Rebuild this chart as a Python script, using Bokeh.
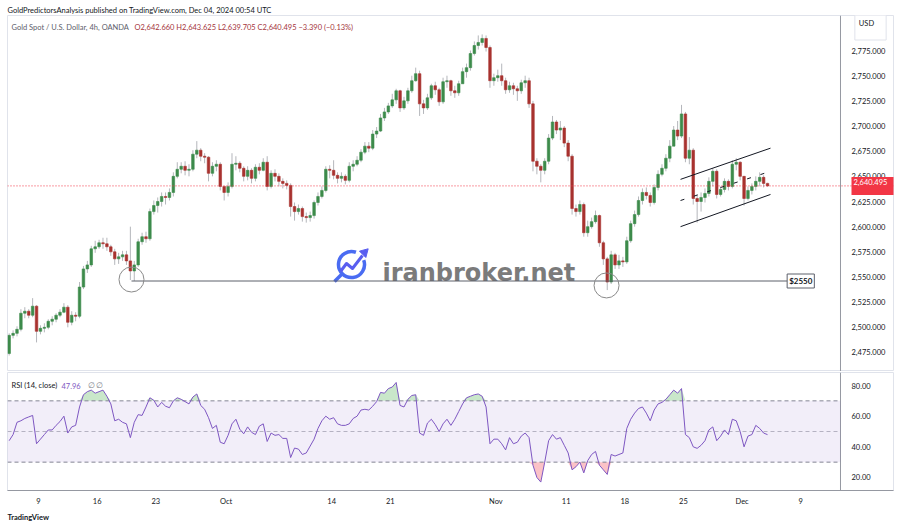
import numpy as np
from bokeh.plotting import figure
from bokeh.layouts import column
from bokeh.models import (ColumnDataSource, Span, Label, FixedTicker, NumeralTickFormatter,
                          BoxAnnotation, Range1d, Title)
from bokeh.embed import file_html
from bokeh.resources import INLINE

# ---------------- data (XAU/USD, 8h candles) ----------------
# candles start Sep 4 2024 (2nd 8h slot) and end Dec 4 2024 (first slot)
# x unit = trading day, Sep 9 2024 00:00 = 0
first_slot = -8
slots_per_day = 3
open_first = 2474
close = [
    2492, 2494,                # Sep 4
    2498, 2514, 2516,          # Sep 5
    2512, 2521, 2496,          # Sep 6
    2499, 2500, 2506,          # Sep 9
    2508, 2512, 2515,          # Sep 10
    2520, 2505, 2512,          # Sep 11
    2511, 2540, 2558,          # Sep 12
    2562, 2578, 2580,          # Sep 13
    2584, 2583, 2580,          # Sep 16
    2575, 2568, 2570,          # Sep 17
    2572, 2566, 2556,          # Sep 18
    2562, 2585, 2590,          # Sep 19
    2588, 2615, 2621,          # Sep 20
    2625, 2630, 2629,          # Sep 23
    2634, 2650, 2657,          # Sep 24
    2660, 2656, 2657,          # Sep 25
    2672, 2676, 2670,          # Sep 26
    2669, 2653, 2660,          # Sep 27
    2662, 2640, 2634,          # Sep 30
    2640, 2662, 2663,          # Oct 1
    2658, 2650, 2656,          # Oct 2
    2648, 2659, 2656,          # Oct 3
    2664, 2640, 2653,          # Oct 4
    2650, 2645, 2643,          # Oct 7
    2641, 2620, 2615,          # Oct 8
    2618, 2610, 2609,          # Oct 9
    2611, 2624, 2630,          # Oct 10
    2636, 2657, 2656,          # Oct 11
    2651, 2648, 2650,          # Oct 14
    2646, 2660, 2662,          # Oct 15
    2666, 2674, 2680,          # Oct 16
    2678, 2692, 2695,          # Oct 17
    2708, 2714, 2720,          # Oct 18
    2726, 2735, 2718,          # Oct 21
    2725, 2735, 2745,          # Oct 22
    2752, 2722, 2718,          # Oct 23
    2728, 2740, 2736,          # Oct 24
    2724, 2744, 2745,          # Oct 25
    2735, 2733, 2742,          # Oct 28
    2754, 2758, 2772,          # Oct 29
    2780, 2783, 2787,          # Oct 30
    2778, 2745, 2748,          # Oct 31
    2750, 2745, 2736,          # Nov 1
    2740, 2737, 2735,          # Nov 4
    2743, 2745, 2722,          # Nov 5
    2665, 2660, 2656,          # Nov 6
    2665, 2688, 2704,          # Nov 7
    2696, 2698, 2683,          # Nov 8
    2670, 2618, 2615,          # Nov 11
    2622, 2594, 2600,          # Nov 12
    2605, 2611, 2584,          # Nov 13
    2568, 2545, 2572,          # Nov 14
    2562, 2566, 2565,          # Nov 15
    2586, 2603, 2612,          # Nov 18
    2626, 2634, 2631,          # Nov 19
    2624, 2639, 2652,          # Nov 20
    2658, 2668, 2680,          # Nov 21
    2696, 2690, 2712,          # Nov 22
    2668, 2676, 2628,          # Nov 25
    2625, 2629, 2633,          # Nov 26
    2645, 2655, 2632,          # Nov 27
    2637, 2645, 2640,          # Nov 28
    2662, 2664, 2650,          # Nov 29
    2628, 2636, 2640,          # Dec 2
    2645, 2649, 2643,          # Dec 3
    2640.495,                  # Dec 4
]
high = [
    2494, 2497,
    2501, 2518, 2520,
    2518, 2529, 2522,
    2502, 2504, 2508,
    2511, 2514, 2518,
    2524, 2522, 2516,
    2515, 2545, 2561,
    2566, 2581, 2586,
    2587, 2589, 2589,
    2582, 2578, 2574,
    2576, 2576, 2600,
    2566, 2588, 2594,
    2595, 2618, 2626,
    2629, 2634, 2634,
    2638, 2654, 2664,
    2664, 2665, 2662,
    2676, 2685, 2678,
    2673, 2670, 2664,
    2666, 2664, 2640,
    2644, 2673, 2670,
    2665, 2660, 2660,
    2658, 2662, 2663,
    2668, 2670, 2656,
    2657, 2653, 2648,
    2646, 2643, 2624,
    2622, 2620, 2614,
    2615, 2626, 2634,
    2640, 2660, 2661,
    2666, 2654, 2654,
    2652, 2664, 2666,
    2670, 2677, 2684,
    2684, 2696, 2699,
    2712, 2718, 2723,
    2732, 2737, 2736,
    2729, 2738, 2750,
    2758, 2755, 2726,
    2732, 2742, 2744,
    2738, 2748, 2750,
    2746, 2740, 2745,
    2758, 2762, 2775,
    2784, 2790, 2791,
    2790, 2780, 2752,
    2756, 2762, 2748,
    2744, 2743, 2740,
    2746, 2750, 2748,
    2725, 2668, 2662,
    2668, 2692, 2710,
    2706, 2705, 2700,
    2686, 2672, 2622,
    2626, 2624, 2606,
    2609, 2616, 2612,
    2586, 2570, 2576,
    2574, 2572, 2570,
    2590, 2606, 2616,
    2630, 2638, 2639,
    2634, 2642, 2656,
    2662, 2672, 2686,
    2700, 2705, 2721,
    2714, 2689, 2678,
    2632, 2634, 2638,
    2649, 2658, 2657,
    2640, 2648, 2647,
    2666, 2668, 2665,
    2650, 2640, 2643,
    2650, 2654, 2651,
    2643.625,
]
low = [
    2472, 2489,
    2491, 2496, 2509,
    2509, 2510, 2485,
    2493, 2495, 2498,
    2502, 2505, 2510,
    2514, 2500, 2502,
    2506, 2509, 2538,
    2554, 2560, 2574,
    2578, 2578, 2576,
    2571, 2562, 2563,
    2566, 2562, 2547,
    2546, 2560, 2582,
    2584, 2586, 2612,
    2614, 2620, 2622,
    2626, 2630, 2648,
    2653, 2651, 2650,
    2655, 2668, 2665,
    2663, 2645, 2650,
    2655, 2636, 2626,
    2630, 2638, 2656,
    2654, 2645, 2646,
    2643, 2645, 2652,
    2655, 2636, 2638,
    2645, 2640, 2638,
    2637, 2610, 2606,
    2612, 2605, 2604,
    2605, 2608, 2621,
    2628, 2634, 2648,
    2647, 2643, 2644,
    2642, 2644, 2655,
    2660, 2664, 2672,
    2674, 2676, 2688,
    2694, 2705, 2712,
    2718, 2722, 2714,
    2716, 2722, 2733,
    2744, 2710, 2712,
    2716, 2726, 2731,
    2720, 2722, 2738,
    2730, 2728, 2730,
    2742, 2748, 2755,
    2770, 2776, 2780,
    2774, 2738, 2740,
    2744, 2740, 2732,
    2733, 2731, 2725,
    2732, 2738, 2718,
    2655, 2652, 2644,
    2652, 2662, 2686,
    2692, 2686, 2679,
    2665, 2612, 2610,
    2612, 2590, 2590,
    2598, 2603, 2580,
    2562, 2537, 2543,
    2558, 2558, 2560,
    2563, 2584, 2600,
    2610, 2622, 2627,
    2620, 2622, 2636,
    2650, 2655, 2664,
    2680, 2686, 2688,
    2664, 2662, 2622,
    2604, 2615, 2624,
    2630, 2640, 2628,
    2630, 2634, 2636,
    2638, 2656, 2646,
    2621, 2626, 2632,
    2636, 2640, 2639,
    2639.705,
]
rsi = [
    44, 48, 56, 57, 58.5, 59.5, 60.5, 42, 45, 48,
    51, 51, 54, 56.5, 60, 49, 53, 54, 66, 74,
    76, 77, 75, 76, 77, 73, 68, 57, 58, 56,
    55, 46, 56, 61, 60.5, 66, 72, 70.4, 66, 69,
    66.5, 65.5, 70, 72, 71, 69.5, 68, 72.5, 74.5, 67,
    64.5, 59, 52, 54, 43, 42, 47.5, 55, 58, 51.5,
    48.5, 53, 49.5, 48, 53.5, 55, 43.5, 49, 47.5, 48,
    45.5, 45.5, 33, 39.2, 38.5, 35, 36, 40.5, 45, 52,
    57, 60, 58, 59, 55, 54, 54, 55, 58.5, 60,
    64, 64.5, 64, 66.5, 69.5, 75.5, 75, 78, 79, 82,
    67, 66, 71, 73.5, 74, 49, 47.5, 55.5, 58, 54.5,
    50, 55, 58, 54, 58, 63, 68, 72, 73, 74,
    74.5, 73, 66, 42, 45, 45, 42, 38, 46, 42,
    43, 47, 49, 46, 28, 20, 17, 30, 44, 48,
    45, 46, 41, 36, 25, 27, 30, 23, 31, 35,
    37, 28, 25, 22, 35, 34, 35, 36, 52, 58,
    62, 65, 66, 62, 57, 64, 68, 69, 71, 74,
    77, 75, 78, 48, 46, 40, 39, 41, 44, 51,
    53, 44, 47, 51, 48, 58, 57, 50, 40, 47,
    48, 54, 52, 49, 47.96,
]

tick_days = [0, 5, 10, 16, 25, 30, 39, 45, 50, 55, 60, 65]
tick_labels = ["9", "16", "23", "Oct", "14", "21", "Nov", "11", "18", "25", "Dec", "9"]
price_ticks = [2475, 2500, 2525, 2550, 2575, 2600, 2625, 2650, 2675, 2700, 2725, 2750, 2775]
rsi_ticks = [20, 40, 60, 80]
rsi_levels = [70, 50, 30]

last_price = 2640.495
support_level = 2546
support_days = [7.93, 63.9]
support_label_day = 65.0
circle_days = [7.93, 48.44]
circle_prices = [2547.5, 2541.6]
channel_days = [54.75, 62.42]
channel_upper = [2647, 2678]
channel_lower = [2600, 2632]
channel_mid_days = [54.75, 62.16]
channel_mid = [2626, 2654]

header1 = "GoldPredictorsAnalysis published on TradingView.com, Dec 04, 2024 00:54 UTC"
header2a = "Gold Spot / U.S. Dollar, 4h, OANDA"
header2b = "O2,642.660  H2,643.625  L2,639.705  C2,640.495  \u22123.390 (\u22120.13%)"

# ---------------- layout / styling ----------------
FONT = "Lato"
UP = "#3d8b4b"
DOWN = "#a8322f"
WICK = "#b4b6bb"
TXT = "#131722"
RSI_COL = "#7e57c2"
W = 900
SCALE_EDGE = 68.39          # day position of the price-scale border line
X_START, X_END = -2.6435, 72.91


def dx(px):
    return (px - 38) / 11.727


def dy(py):
    return 2775 - (py - 50) / 1.0067


n = len(close)
opens = [open_first] + close[:-1]
x = (np.arange(n) + first_slot + 0.5) / slots_per_day
o = np.array(opens, dtype=float)
c = np.array(close, dtype=float)
src = ColumnDataSource(dict(
    x=x, h=high, l=low,
    top=np.maximum(o, c), bot=np.minimum(o, c),
    color=np.where(c >= o, UP, DOWN),
))

x_range = Range1d(X_START, X_END)


def style_y(ax, ticks, fmt):
    ax.ticker = FixedTicker(ticks=ticks)
    ax.formatter = NumeralTickFormatter(format=fmt)
    ax.major_tick_line_color = None
    ax.minor_tick_line_color = None
    ax.major_tick_out = 0
    ax.major_tick_in = 0
    ax.minor_tick_out = 0
    ax.axis_line_color = None
    ax.major_label_text_font = FONT
    ax.major_label_text_font_size = "7.5px"
    ax.major_label_text_color = TXT
    ax.major_label_standoff = -42


# ---------------- main price pane ----------------
p1 = figure(width=W, height=371, x_range=x_range, y_range=Range1d(2456.1, 2809.8),
            output_backend="svg", toolbar_location=None,
            x_axis_location=None, y_axis_location="right",
            min_border_left=7, min_border_right=7, min_border_top=15, min_border_bottom=0)
p1.xgrid.visible = False
p1.ygrid.visible = False
p1.outline_line_color = "#e0e3eb"
p1.background_fill_color = "white"
style_y(p1.yaxis[0], price_ticks, "0,0.000")
p1.add_layout(Title(text=header1, align="left", text_font=FONT, text_font_size="7.5px",
                    text_font_style="normal", text_color=TXT, standoff=2), "above")

# watermark (iranbroker.net)
ICON = "#4a6cf2"
p1.arc(x=[dx(351)], y=[dy(264)], radius=13, radius_units="screen",
       start_angle=np.radians(70), end_angle=np.radians(20), direction="anticlock",
       line_width=3.5, line_color=ICON, level="underlay")
p1.segment(x0=[dx(341)], y0=[dy(274)], x1=[dx(334)], y1=[dy(281)],
           line_width=3.5, line_color=ICON, level="underlay")
p1.line(x=[dx(340), dx(346), dx(352), dx(362)], y=[dy(271), dy(263), dy(268), dy(255)],
        line_width=3, line_color="#5a5ef0", line_join="round", level="underlay")
p1.scatter(x=[dx(364)], y=[dy(252)], marker="triangle", size=9, angle=-np.pi / 4,
           fill_color="#5a5ef0", line_color="#5a5ef0", level="underlay")
p1.add_layout(Label(x=dx(382), y=dy(273), text="iranbroker.net", text_font="DejaVu Sans",
                    text_font_style="bold", text_font_size="24px", text_color="#7b7b7b",
                    text_baseline="alphabetic", level="underlay"))

# price scale border, last price dotted line
p1.add_layout(Span(location=SCALE_EDGE, dimension="height", line_color="#9598a1", line_width=1))
p1.add_layout(Span(location=last_price, dimension="width", line_color="#f23645",
                   line_dash="1 2", line_width=1))

# candles
p1.segment(x0="x", y0="h", x1="x", y1="l", source=src, line_color=WICK, line_width=1)
p1.vbar(x="x", width=0.22, top="top", bottom="bot", fill_color="color", line_color="color",
        line_width=0.6, source=src)

# support line, circles, channel
p1.line(x=support_days, y=[support_level, support_level], line_color="#5d606b", line_width=1)
p1.scatter(x=circle_days, y=circle_prices, marker="circle", size=25, fill_color=None,
           line_color="#8a8a8a", line_width=1)
p1.line(x=channel_days, y=channel_upper, line_color=TXT, line_width=1)
p1.line(x=channel_days, y=channel_lower, line_color=TXT, line_width=1)
p1.line(x=channel_mid_days, y=channel_mid, line_color=TXT, line_width=1, line_dash="4 10")

p1.add_layout(Label(x=support_label_day, y=support_level, text="$2550", text_font=FONT,
                    text_font_style="bold", text_font_size="8px", text_color=TXT,
                    text_align="center", text_baseline="middle",
                    background_fill_color="white", border_line_color="#5d606b",
                    padding=2))

# price tag on the scale
p1.add_layout(Label(x=844, y=last_price, x_units="screen", text="2,640.495", text_font=FONT,
                    text_font_size="7.5px", text_color="white", text_align="left",
                    text_baseline="middle", background_fill_color="#f23645",
                    padding=(2, 8, 2, 10)))

# header line 2 and USD box
p1.add_layout(Label(x=4, y=344, x_units="screen", y_units="screen", text=header2a,
                    text_font=FONT, text_font_size="7.5px", text_color="#5d606b",
                    text_baseline="middle"))
p1.add_layout(Label(x=127, y=344, x_units="screen", y_units="screen", text=header2b,
                    text_font=FONT, text_font_size="7.5px", text_color="#a4343a",
                    text_baseline="middle"))
p1.add_layout(Label(x=863, y=344, x_units="screen", y_units="screen", text="USD",
                    text_font=FONT, text_font_size="7.5px", text_color=TXT,
                    text_align="center", text_baseline="middle",
                    background_fill_color="white", border_line_color="#e0e3eb",
                    padding=(4, 12, 4, 12)))

# ---------------- RSI pane ----------------
p2 = figure(width=W, height=157, x_range=x_range, y_range=Range1d(11.5, 88.5),
            output_backend="svg", toolbar_location=None,
            x_axis_location="below", y_axis_location="right",
            min_border_left=7, min_border_right=7, min_border_top=1, min_border_bottom=38)
p2.xgrid.visible = False
p2.ygrid.visible = False
p2.outline_line_color = "#e0e3eb"
style_y(p2.yaxis[0], rsi_ticks, "0.00")

xa = p2.xaxis[0]
xa.ticker = FixedTicker(ticks=tick_days)
xa.major_label_overrides = {d: lab for d, lab in zip(tick_days, tick_labels)}
xa.major_tick_line_color = None
xa.minor_tick_line_color = None
xa.major_tick_out = 0
xa.minor_tick_out = 0
xa.axis_line_color = "#9598a1"
xa.major_label_text_font = FONT
xa.major_label_text_font_size = "7.5px"
xa.major_label_text_color = TXT
xa.major_label_standoff = 6

p2.add_layout(Title(text="TradingView", align="left", text_font=FONT, text_font_size="7.5px",
                    text_font_style="bold", text_color=TXT, standoff=4), "below")

p2.add_layout(Span(location=SCALE_EDGE, dimension="height", line_color="#9598a1", line_width=1))
p2.add_layout(BoxAnnotation(bottom=30, top=70, right=SCALE_EDGE, fill_color=RSI_COL,
                            fill_alpha=0.1, line_color=None))

r = np.array(rsi, dtype=float)
p2.varea(x=x, y1=70, y2=np.maximum(r, 70), fill_color="#4caf50", fill_alpha=0.3)
p2.varea(x=x, y1=np.minimum(r, 30), y2=30, fill_color="#f23645", fill_alpha=0.3)
for lvl in rsi_levels:
    p2.line(x=[X_START, SCALE_EDGE], y=[lvl, lvl], line_color="#787b86",
            line_dash="4 3", line_width=1, line_alpha=0.5 if lvl == 50 else 0.9)
p2.line(x=x, y=r, line_color=RSI_COL, line_width=1)

p2.add_layout(Label(x=4, y=105, x_units="screen", y_units="screen", text="RSI (14, close)",
                    text_font=FONT, text_font_size="7.5px", text_color=TXT,
                    text_baseline="middle"))
p2.add_layout(Label(x=54, y=105, x_units="screen", y_units="screen", text="47.96",
                    text_font=FONT, text_font_size="7.5px", text_color=RSI_COL,
                    text_baseline="middle"))
p2.add_layout(Label(x=80, y=105, x_units="screen", y_units="screen", text="\u2205 \u2205",
                    text_font=FONT, text_font_size="7.5px", text_color="#787b86",
                    text_baseline="middle"))

layout = column(p1, p2, spacing=0)
open("out.html", "w").write(file_html(layout, INLINE))
